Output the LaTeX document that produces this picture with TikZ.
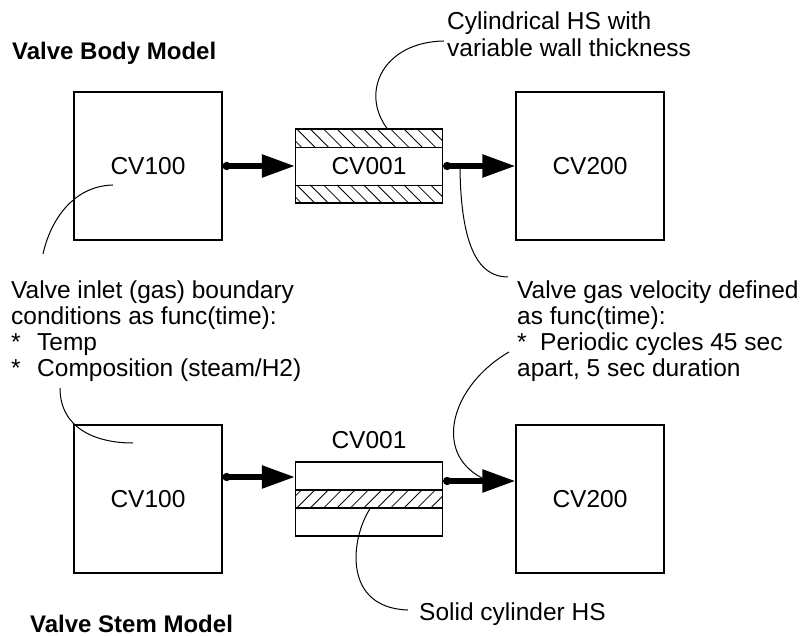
\documentclass[tikz,border=0pt]{standalone}
\usepackage{fontspec}
\setmainfont{Liberation Sans}
\usetikzlibrary{arrows.meta,calc}
\begin{document}
\begin{tikzpicture}[x=1pt,y=-1pt,
  txt/.style={inner sep=0pt, anchor=base west, font=\fontsize{24.5pt}{27pt}\selectfont},
  ttl/.style={inner sep=0pt, anchor=base west, font=\fontsize{24pt}{27pt}\selectfont\bfseries},
  cvbox/.style={draw, line width=1.3pt, minimum width=148pt, minimum height=148pt, inner sep=0pt, font=\fontsize{24.5pt}{27pt}\selectfont},
  pipe/.style={draw, line width=1.3pt, minimum width=147pt, minimum height=74pt, inner sep=0pt, font=\fontsize{24.5pt}{27pt}\selectfont},
  flow/.style={line width=5.5pt, {Circle[length=8pt]}-{Triangle[length=33pt,width=22pt]}},
  leader/.style={line width=1pt},
  hatch/.style={line width=0.8pt}]
\useasboundingbox (0,0) rectangle (801,636);
\fill[white] (0,0) rectangle (801,636);

% ---------- Valve Body Model ----------
\node[ttl] (t1) at (12,60) {Valve Body Model};
\node[cvbox] (a100) at (148,166) {CV100};
\node[cvbox] (a200) at (590,166) {CV200};
% hatched bands of the top CV001
\begin{scope}
  \clip (295.5,129) rectangle (442.5,148);
  \foreach \x in {270,283.4,...,450} \draw[hatch] (\x,129) -- ++(19,19);
\end{scope}
\begin{scope}
  \clip (295.5,185) rectangle (442.5,203);
  \foreach \x in {270,283.4,...,450} \draw[hatch] (\x,185) -- ++(18,18);
\end{scope}
\node[pipe] (a001) at (369,166) {CV001};
\draw[line width=1.3pt] ($(a001.north west)+(0,19)$) -- ($(a001.north east)+(0,19)$);
\draw[line width=1.3pt] ($(a001.south west)+(0,-18)$) -- ($(a001.south east)+(0,-18)$);
\draw[flow] (a100.east) -- (a001.west);
\draw[flow] (a001.east) -- (a200.west);

\node[txt] (c1) at (447,30) {Cylindrical HS with};
\node[txt] (c2) at (447,57) {variable wall thickness};
\coordinate (cylend) at (444,41);
\draw[leader] ($(a001.north)+(18,0)$) .. controls (360,92) and (383,42) .. (cylend);

% ---------- left annotation ----------
\node[txt] (l1) at (11,299) {Valve inlet (gas) boundary};
\node[txt] (l2) at (11,325) {conditions as func(time):};
\node[txt] (l3) at (11,351) {\makebox[26pt][l]{*}Temp};
\node[txt] (l4) at (11,377) {\makebox[26pt][l]{*}Composition (steam/H2)};
\coordinate (lup) at (43,254);
\coordinate (ldn) at (60,388);
\coordinate (a100in) at (113,185);
\coordinate (b100in) at (133,443);
\draw[leader] (a100in) .. controls (72,186) and (50,222) .. (lup);
\draw[leader] (ldn) .. controls (60,428) and (95,443) .. (b100in);

% ---------- right annotation ----------
\node[txt] (r1) at (517,299) {Valve gas velocity defined};
\node[txt] (r2) at (517,325) {as func(time):};
\node[txt] (r3) at (517,351) {\makebox[23pt][l]{*}Periodic cycles 45 sec};
\node[txt] (r4) at (517,377) {apart, 5 sec duration};
\coordinate (rup) at (508,277);
\coordinate (rdn) at (509,352);
\coordinate (aflow) at (460,168);
\coordinate (bflow) at (482,478);
\draw[leader] (aflow) .. controls (461,250) and (480,277) .. (rup);
\draw[leader] (rdn) .. controls (452,385) and (432,452) .. (bflow);

% ---------- Valve Stem Model ----------
\node[cvbox] (b100) at (148,499) {CV100};
\node[cvbox] (b200) at (590,499) {CV200};
\begin{scope}
  \clip (295.5,490) rectangle (442.5,508);
  \foreach \x in {270,283.4,...,450} \draw[hatch] (\x,508) -- ++(18,-18);
\end{scope}
\node[pipe] (b001) at (369,499) {};
\draw[line width=1.3pt] ($(b001.west)+(0,-9)$) -- ($(b001.east)+(0,-9)$);
\draw[line width=1.3pt] ($(b001.west)+(0,9)$) -- ($(b001.east)+(0,9)$);
\node[txt, anchor=base] (b001l) at (369,448) {CV001};
\draw[flow] ($(b100.east)+(0,-22)$) -- ($(b001.west)+(0,-22)$);
\draw[flow] ($(b001.east)+(0,-18)$) -- ($(b200.west)+(0,-18)$);
\draw[leader] ($(b001.south)+(1,-28)$) .. controls (350,540) and (343,608) .. (408,610);
\coordinate (sol) at (408,610);
\node[txt] (s1) at (419,620) {Solid cylinder HS};
\node[ttl] (t2) at (30,632) {Valve Stem Model};
\end{tikzpicture}
\end{document}
